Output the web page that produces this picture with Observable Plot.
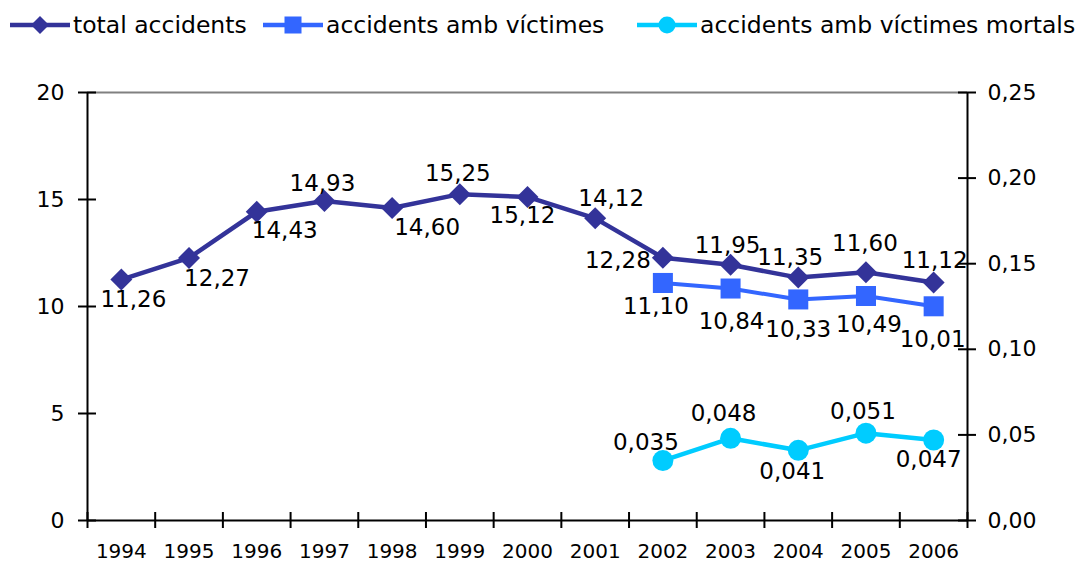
<!DOCTYPE html>
<html><head><meta charset="utf-8">
<script src="https://cdn.jsdelivr.net/npm/d3@7"></script>
<script src="https://cdn.jsdelivr.net/npm/@observablehq/plot@0.6"></script>
<style>
body{margin:0;background:#fff;font-family:"DejaVu Sans",sans-serif;}
#legend{position:relative;height:46px;width:1079px;}
.item{position:absolute;top:2px;height:46px;display:flex;align-items:center;font-size:23.5px;color:#000;white-space:nowrap;}
.item svg{margin-right:3px;display:block}
</style></head><body>
<div id="legend"></div><div id="chart"></div>
<script>
// ---- data ----
const years = [1994, 1995, 1996, 1997, 1998, 1999, 2000, 2001, 2002, 2003, 2004, 2005, 2006];
const totalAccidents = [11.26, 12.27, 14.43, 14.93, 14.60, 15.25, 15.12, 14.12, 12.28, 11.95, 11.35, 11.60, 11.12];
const victimYears = [2002, 2003, 2004, 2005, 2006];
const victimAccidents = [11.10, 10.84, 10.33, 10.49, 10.01];
const fatalAccidents = [0.035, 0.048, 0.041, 0.051, 0.047];
const leftTicks = [0, 5, 10, 15, 20];
const rightTicks = [0, 0.05, 0.10, 0.15, 0.20, 0.25];
const seriesNames = ["total accidents", "accidents amb víctimes", "accidents amb víctimes mortals"];
// label placement (pixel offsets from each point)
const totalLabelOffsets = [[12,20],[28,21],[28,19],[-2,-17],[35,20],[-2,-21],[-5,19],[16,-20],[-45,3],[-3,-19],[-8,-20],[-1,-29],[1,-22]];
const victimLabelOffsets = [[-7,24],[1,33],[0,30],[3,29],[-1,33]];
const fatalLabelOffsets = [[-17,-18],[-7,-25],[-6,21],[-3,-22],[-5,20]];

// ---- build ----
const colors = ["#333399", "#3366FF", "#00CCFF"];
const leftMax = leftTicks[leftTicks.length - 1];
const rightMax = rightTicks[rightTicks.length - 1];
const k = leftMax / rightMax; // right-axis values mapped onto left scale
const x0 = years[0] - 0.5, x1 = years[years.length - 1] + 0.5;
const bounds = d3.range(years.length + 1).map(i => x0 + i);

const total = years.map((y, i) => ({year: y, v: totalAccidents[i], off: totalLabelOffsets[i]}));
const victims = victimYears.map((y, i) => ({year: y, v: victimAccidents[i], off: victimLabelOffsets[i]}));
const fatal = victimYears.map((y, i) => ({year: y, v: fatalAccidents[i], off: fatalLabelOffsets[i]}));

const fmt2 = v => v.toFixed(2).replace(".", ",");
const fmt3 = v => v.toFixed(3).replace(".", ",");

function labels(data, yf, tf) {
  return data.map(d => Plot.text([d], {x: "year", y: yf, text: tf, dx: d.off[0], dy: d.off[1], fill: "black", fontSize: 23}));
}

const plot = Plot.plot({
  width: 1079, height: 517,
  marginLeft: 87, marginRight: 112, marginTop: 46, marginBottom: 43,
  style: {fontFamily: "DejaVu Sans, sans-serif", fontSize: "22px", background: "white", color: "black", overflow: "visible"},
  x: {type: "linear", domain: [x0, x1], axis: null},
  y: {domain: [0, leftMax], axis: null},
  marks: [
    Plot.ruleY([leftMax], {stroke: "#808080", strokeWidth: 2}),
    Plot.ruleY([0], {stroke: "black", strokeWidth: 2}),
    Plot.ruleX([x0, x1], {stroke: "black", strokeWidth: 2}),
    Plot.ruleY(leftTicks, {y: d => d, x1: x0, x2: x0, insetLeft: -9, insetRight: -9, stroke: "black", strokeWidth: 2}),
    Plot.ruleY(rightTicks, {y: d => d * k, x1: x1, x2: x1, insetLeft: -9, insetRight: -9, stroke: "black", strokeWidth: 2}),
    Plot.ruleX(bounds, {x: d => d, y1: 0, y2: 0, insetTop: -8, insetBottom: -8, stroke: "black", strokeWidth: 2}),
    Plot.text(leftTicks, {x: x0, y: d => d, text: d => String(d), textAnchor: "end", dx: -23, fill: "black", fontSize: 22}),
    Plot.text(rightTicks, {x: x1, y: d => d * k, text: fmt2, textAnchor: "start", dx: 20, fill: "black", fontSize: 22}),
    Plot.text(years, {x: d => d, y: 0, text: d => String(d), dy: 31, fill: "black", fontSize: 20}),
    Plot.line(total, {x: "year", y: "v", stroke: colors[0], strokeWidth: 4.5}),
    Plot.dot(total, {x: "year", y: "v", symbol: "diamond2", r: 9.9, fill: colors[0], stroke: "none"}),
    Plot.line(victims, {x: "year", y: "v", stroke: colors[1], strokeWidth: 4}),
    Plot.dot(victims, {x: "year", y: "v", symbol: "square", r: 11.3, fill: colors[1], stroke: "none"}),
    Plot.line(fatal, {x: "year", y: d => d.v * k, stroke: colors[2], strokeWidth: 4.5}),
    Plot.dot(fatal, {x: "year", y: d => d.v * k, r: 10.5, fill: colors[2], stroke: "none"}),
    ...labels(total, "v", d => fmt2(d.v)),
    ...labels(victims, "v", d => fmt2(d.v)),
    ...labels(fatal, d => d.v * k, d => fmt3(d.v))
  ]
});
document.getElementById("chart").appendChild(plot);

// legend
const legendLeft = [10, 263, 637];
const markerSvg = [
  c => `<path d="M30,16 L39,25 L30,34 L21,25 Z" fill="${c}"/>`,
  c => `<rect x="21.5" y="16.5" width="17" height="17" fill="${c}"/>`,
  c => `<circle cx="30" cy="25" r="8.5" fill="${c}"/>`
];
const leg = document.getElementById("legend");
seriesNames.forEach((name, i) => {
  const div = document.createElement("div");
  div.className = "item";
  div.style.left = legendLeft[i] + "px";
  div.innerHTML = `<svg width="60" height="50"><line x1="0" x2="60" y1="25" y2="25" stroke="${colors[i]}" stroke-width="4.5"/>${markerSvg[i](colors[i])}</svg><span>${name}</span>`;
  leg.appendChild(div);
});
</script>
</body></html>
